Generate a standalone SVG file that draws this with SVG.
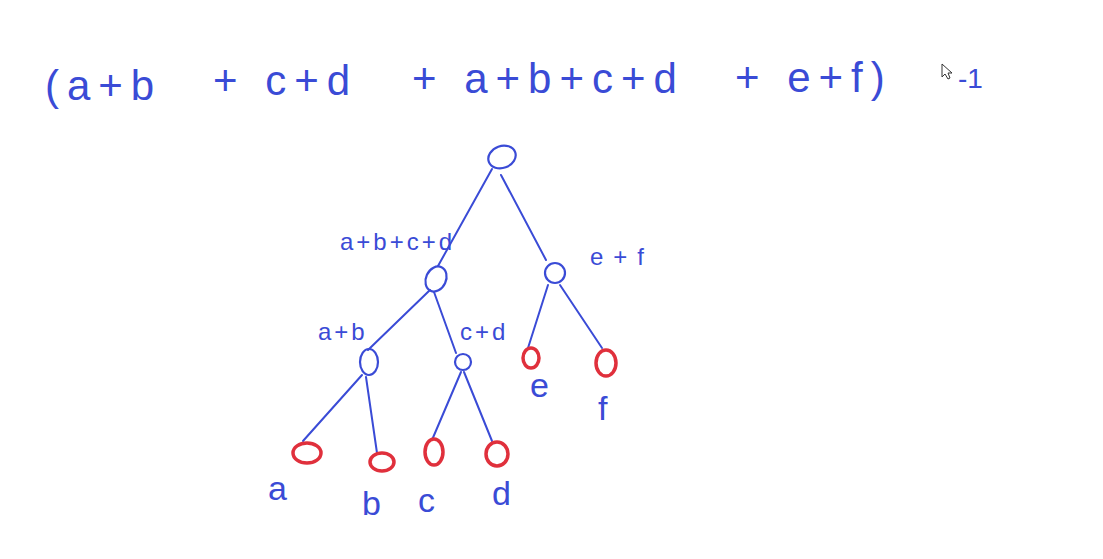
<svg xmlns="http://www.w3.org/2000/svg" width="1103" height="559" viewBox="0 0 1103 559">
<style>
.t{font-family:"Liberation Sans",Arial,sans-serif;fill:#3a4bd6;}
.top{font-size:42px;letter-spacing:8px;}
.lbl{font-size:24px;letter-spacing:3px;}
.leaf{font-size:34px;}
.n{fill:none;stroke:#3a4bd6;stroke-width:2.2;}
.r{fill:none;stroke:#e0303c;stroke-width:3.5;}
.e{fill:none;stroke:#3a4bd6;stroke-width:2;stroke-linecap:round;}
</style>
<rect width="1103" height="559" fill="#ffffff"/>
<g id="formula">
<text class="t top" x="45" y="100">(a+b</text>
<text class="t top" x="213" y="95">+ c+d</text>
<text class="t top" x="412" y="93">+ a+b+c+d</text>
<text class="t top" x="735" y="92">+ e+f)</text>
<text class="t" x="958" y="88" font-size="28">-1</text>
</g>
<g id="cursor">
<path d="M942,64 L942,77 L945,74 L948,79 L950,78 L948,73 L952,73 Z" fill="#ffffff" stroke="#333333" stroke-width="1"/>
</g>
<g id="connectors">
<line class="e" x1="492" y1="169" x2="438" y2="266"/>
<line class="e" x1="501" y1="175" x2="546" y2="260"/>
<line class="e" x1="430" y1="290" x2="368" y2="350"/>
<line class="e" x1="434" y1="292" x2="456" y2="353"/>
<line class="e" x1="548" y1="285" x2="528" y2="348"/>
<line class="e" x1="560" y1="285" x2="602" y2="348"/>
<line class="e" x1="362" y1="375" x2="303" y2="441"/>
<line class="e" x1="366" y1="377" x2="377" y2="453"/>
<line class="e" x1="461" y1="372" x2="432" y2="440"/>
<line class="e" x1="464" y1="372" x2="492" y2="441"/>
</g>
<g id="root">
<ellipse class="n" cx="502" cy="157" rx="14" ry="11" transform="rotate(-20 502 157)"/>
</g>
<g id="abcd">
<ellipse class="n" cx="436" cy="279" rx="10" ry="13" transform="rotate(25 436 279)"/>
<text class="t lbl" x="340" y="250">a+b+c+d</text>
</g>
<g id="ef">
<ellipse class="n" cx="555" cy="273" rx="10" ry="10"/>
<text class="t lbl" x="590" y="265" style="letter-spacing:10px">e+f</text>
</g>
<g id="ab">
<ellipse class="n" cx="369" cy="362" rx="9" ry="13"/>
<text class="t lbl" x="318" y="340">a+b</text>
</g>
<g id="cd">
<ellipse class="n" cx="463" cy="362" rx="8" ry="8"/>
<text class="t lbl" x="460" y="340">c+d</text>
</g>
<g id="a">
<ellipse class="r" cx="307" cy="453" rx="14" ry="10"/>
<text class="t leaf" x="268" y="500">a</text>
</g>
<g id="b">
<ellipse class="r" cx="382" cy="462" rx="12" ry="9"/>
<text class="t leaf" x="362" y="515">b</text>
</g>
<g id="c">
<ellipse class="r" cx="434" cy="452" rx="9" ry="13"/>
<text class="t leaf" x="418" y="512">c</text>
</g>
<g id="d">
<ellipse class="r" cx="497" cy="454" rx="11" ry="12"/>
<text class="t leaf" x="492" y="505">d</text>
</g>
<g id="e">
<ellipse class="r" cx="531" cy="358" rx="8" ry="10"/>
<text class="t leaf" x="530" y="397" font-size="28">e</text>
</g>
<g id="f">
<ellipse class="r" cx="606" cy="363" rx="10" ry="13"/>
<text class="t leaf" x="598" y="420">f</text>
</g>
</svg>
